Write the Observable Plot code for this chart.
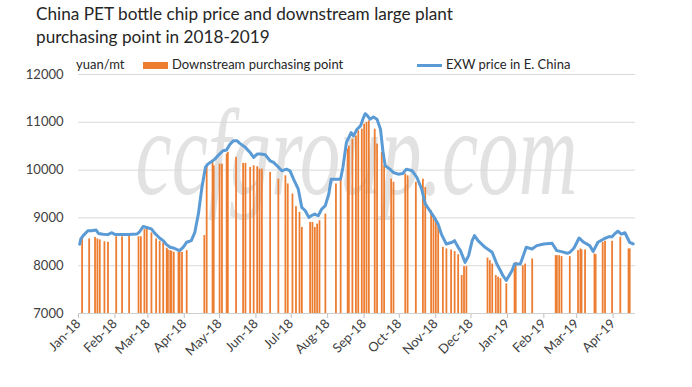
<!DOCTYPE html>
<html>
<head>
<meta charset="utf-8">
<script src="https://cdn.jsdelivr.net/npm/d3@7"></script>
<script src="https://cdn.jsdelivr.net/npm/@observablehq/plot@0.6"></script>
<style>
  body { margin: 0; background: #fff; }
  #wrap { position: relative; width: 692px; height: 387px; font-family: Lato, "Open Sans", sans-serif; color: #262626; }
  #title { height: 52px; box-sizing: border-box; padding: 2px 0 0 36px; font-size: 17.2px; line-height: 23px; }
  .lg { position: absolute; font-size: 13px; line-height: 15px; top: 57px; white-space: nowrap; color: #262626; }
</style>
</head>
<body>
<div id="wrap">
  <div id="title">China PET bottle chip price and downstream large plant<br>purchasing point in 2018-2019</div>
  <div id="chart"></div>
  <div class="lg" style="left:76px">yuan/mt</div>
  <div class="lg" style="left:143px;top:62px;width:25px;height:7px;background:#ed7d31"></div>
  <div class="lg" style="left:172px">Downstream purchasing point</div>
  <div class="lg" style="left:417px;top:64px;width:25px;height:3px;background:#5b9bd5"></div>
  <div class="lg" style="left:446px">EXW price in E. China</div>
</div>
<script>
const lineDates = ["2018-01-02","2018-01-03","2018-01-05","2018-01-09","2018-01-12","2018-01-16","2018-01-18","2018-01-22","2018-01-26","2018-01-29","2018-02-01","2018-02-07","2018-02-12","2018-02-20","2018-02-22","2018-02-25","2018-02-28","2018-03-04","2018-03-07","2018-03-11","2018-03-14","2018-03-17","2018-03-20","2018-03-23","2018-03-26","2018-03-28","2018-03-31","2018-04-03","2018-04-07","2018-04-10","2018-04-13","2018-04-16","2018-04-19","2018-04-21","2018-04-24","2018-04-27","2018-05-01","2018-05-04","2018-05-07","2018-05-10","2018-05-13","2018-05-16","2018-05-18","2018-05-23","2018-05-27","2018-05-30","2018-06-02","2018-06-05","2018-06-09","2018-06-13","2018-06-16","2018-06-19","2018-06-23","2018-06-27","2018-06-30","2018-07-03","2018-07-07","2018-07-10","2018-07-13","2018-07-16","2018-07-18","2018-07-21","2018-07-24","2018-07-27","2018-07-30","2018-08-02","2018-08-04","2018-08-09","2018-08-12","2018-08-14","2018-08-17","2018-08-19","2018-08-21","2018-08-23","2018-08-26","2018-08-29","2018-08-31","2018-09-02","2018-09-04","2018-09-06","2018-09-09","2018-09-12","2018-09-15","2018-09-17","2018-09-19","2018-09-23","2018-09-26","2018-09-30","2018-10-04","2018-10-07","2018-10-12","2018-10-16","2018-10-20","2018-10-23","2018-10-27","2018-10-31","2018-11-03","2018-11-06","2018-11-10","2018-11-15","2018-11-17","2018-11-20","2018-11-22","2018-11-26","2018-11-29","2018-12-02","2018-12-04","2018-12-07","2018-12-13","2018-12-19","2018-12-23","2018-12-26","2018-12-28","2018-12-31","2019-01-05","2019-01-07","2019-01-12","2019-01-17","2019-01-22","2019-01-26","2019-02-01","2019-02-08","2019-02-12","2019-02-16","2019-02-21","2019-02-23","2019-02-26","2019-02-27","2019-03-03","2019-03-07","2019-03-12","2019-03-15","2019-03-19","2019-03-24","2019-03-28","2019-03-31","2019-04-02","2019-04-05","2019-04-08","2019-04-11","2019-04-15","2019-04-18"];
const lineValues = [8450,8560,8630,8730,8730,8745,8675,8660,8650,8690,8655,8655,8655,8665,8710,8820,8800,8770,8675,8580,8525,8440,8385,8370,8335,8315,8385,8490,8525,8700,9080,9635,10055,10125,10175,10230,10335,10405,10420,10545,10615,10615,10565,10475,10370,10265,10335,10335,10320,10195,10160,10090,9985,10020,9985,9810,9605,9220,9150,9010,9045,9080,9045,9185,9255,9500,9810,9810,9810,10055,10580,10680,10785,10715,10855,10925,11065,11180,11135,11065,11110,11065,10855,10405,10090,10020,9950,9915,9930,10020,9985,9845,9605,9300,9150,9000,8870,8650,8455,8490,8525,8390,8315,8070,8210,8525,8630,8525,8385,8280,8035,7900,7800,7690,7900,8035,8035,8385,8350,8420,8455,8470,8315,8295,8260,8280,8350,8385,8580,8490,8420,8300,8490,8560,8605,8605,8660,8720,8660,8690,8490,8455];

const barDates = ["2018-01-04","2018-01-10","2018-01-15","2018-01-17","2018-01-19","2018-01-23","2018-01-26","2018-02-02","2018-02-07","2018-02-13","2018-02-21","2018-02-23","2018-02-26","2018-02-28","2018-03-04","2018-03-08","2018-03-11","2018-03-14","2018-03-17","2018-03-18","2018-03-20","2018-03-21","2018-03-23","2018-03-27","2018-03-28","2018-03-30","2018-04-03","2018-04-18","2018-04-20","2018-04-25","2018-04-26","2018-05-01","2018-05-03","2018-05-07","2018-05-08","2018-05-15","2018-05-21","2018-05-23","2018-05-27","2018-05-30","2018-06-02","2018-06-04","2018-06-06","2018-06-13","2018-06-20","2018-06-26","2018-06-28","2018-07-02","2018-07-05","2018-07-08","2018-07-10","2018-07-17","2018-07-19","2018-07-21","2018-07-23","2018-07-25","2018-07-30","2018-08-08","2018-08-12","2018-08-18","2018-08-19","2018-08-22","2018-08-25","2018-08-27","2018-08-30","2018-09-01","2018-09-03","2018-09-05","2018-09-10","2018-09-12","2018-09-16","2018-09-18","2018-09-24","2018-09-26","2018-10-06","2018-10-08","2018-10-15","2018-10-21","2018-10-23","2018-10-28","2018-10-30","2018-11-01","2018-11-03","2018-11-07","2018-11-10","2018-11-14","2018-11-17","2018-11-20","2018-11-23","2018-11-25","2018-11-27","2018-12-15","2018-12-17","2018-12-19","2018-12-22","2018-12-24","2018-12-26","2018-12-31","2019-01-07","2019-01-08","2019-01-14","2019-01-16","2019-01-22","2019-02-11","2019-02-12","2019-02-14","2019-02-16","2019-02-23","2019-03-02","2019-03-04","2019-03-05","2019-03-08","2019-03-16","2019-03-17","2019-03-23","2019-03-25","2019-03-31","2019-04-07","2019-04-14","2019-04-15"];
const barValues = [8550,8560,8590,8560,8540,8500,8490,8605,8605,8630,8605,8605,8755,8770,8685,8560,8510,8475,8365,8330,8315,8300,8280,8280,8290,8280,8315,8630,10090,10160,10090,10125,10125,10335,10370,10265,10140,10140,10055,10090,10070,10020,10020,9950,9810,9880,9710,9500,9235,9115,8800,8905,8905,8800,8870,8940,9080,9710,9780,10440,10500,10645,10715,10820,10855,10960,11000,11030,10855,10545,10370,10090,9810,9745,9915,9880,9745,9810,9635,9150,9045,8975,8800,8385,8350,8330,8295,8230,7795,7980,7980,8160,8105,8035,7795,7760,7730,7620,7935,8070,8000,8035,8140,8210,8210,8210,8190,8190,8315,8350,8330,8330,8245,8230,8490,8510,8510,8595,8350,8350];

const yTicks = [7000, 8000, 9000, 10000, 11000, 12000];
const watermark = "ccfgroup.com";

const parse = d3.utcParse("%Y-%m-%d");
const lineData = lineDates.map((d, i) => ({date: parse(d), value: lineValues[i]}));
const barData = barDates.map((d, i) => ({date: parse(d), value: barValues[i]}));

const chart = Plot.plot({
  width: 692,
  height: 335,
  marginTop: 22,
  marginBottom: 74,
  marginLeft: 78,
  marginRight: 57,
  style: {fontFamily: "Lato, 'Open Sans', sans-serif", fontSize: "13px", color: "#404040", background: "transparent"},
  x: {
    type: "utc",
    domain: [new Date(Date.UTC(2018, 0, 1)), new Date(Date.UTC(2019, 3, 20))],
    ticks: d3.utcMonth.range(new Date(Date.UTC(2018, 0, 1)), new Date(Date.UTC(2019, 3, 2))),
    tickFormat: d3.utcFormat("%b-%y"),
    tickRotate: -45,
    tickSize: 5,
    tickPadding: 3,
    label: null
  },
  y: {
    domain: [7000, 12000],
    ticks: yTicks,
    tickFormat: "d",
    tickSize: 0,
    tickPadding: 15,
    label: null
  },
  marks: [
    Plot.text([watermark], {text: d => d, frameAnchor: "middle", textAnchor: "middle", lineAnchor: "bottom", dx: -10, dy: 6, fontFamily: "'Liberation Serif', serif", fontStyle: "italic", fontSize: 122, fill: "#e2e2e2"}),
    Plot.ruleY(yTicks.slice(1), {stroke: "#d9d9d9", strokeWidth: 1}),
    Plot.rectY(barData, {x1: "date", x2: d => d3.utcDay.offset(d.date, 1), y1: 7000, y2: "value", fill: "#ed7d31", insetLeft: -0.3, insetRight: -0.3}),
    Plot.ruleY([7000], {stroke: "#d0d0d0", strokeWidth: 1}),
    Plot.line(lineData, {x: "date", y: "value", stroke: "#5b9bd5", strokeWidth: 3, strokeLinejoin: "round", strokeLinecap: "round"})
  ]
});
document.getElementById("chart").appendChild(chart);
// squeeze the watermark horizontally to the reference's width with a transform on its group
const wmText = d3.select(chart).selectAll("text").filter(function() { return this.textContent === watermark; });
if (!wmText.empty()) {
  const g = wmText.node().parentNode;
  const bb = g.getBBox();
  const sx = 442 / bb.width;
  const cx = bb.x + bb.width / 2;
  const base = bb.y + bb.height * 0.78;
  d3.select(g).attr("transform", `translate(${cx},${base}) scale(${sx},1) translate(${-cx},${-base})`);
}
d3.select(chart).selectAll("[aria-label='x-axis tick'] path, [aria-label='x-axis'] line").attr("stroke", "#bfbfbf");
</script>
</body>
</html>
